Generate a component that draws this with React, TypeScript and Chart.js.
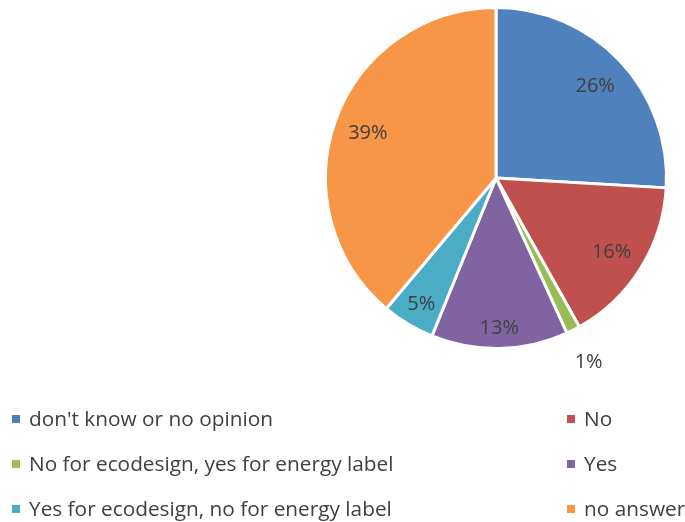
import React, { useEffect, useRef } from "react";
import { Chart, registerables } from "chart.js";

Chart.register(...registerables);

const categories = [
  "don't know or no opinion",
  "No",
  "No for ecodesign, yes for energy label",
  "Yes",
  "Yes for ecodesign, no for energy label",
  "no answer",
];
const values = [26, 16, 1.3, 13, 5, 39];
const valueLabels = ["26%", "16%", "1%", "13%", "5%", "39%"];
const colors = ["#4F81BD", "#C0504D", "#9BBB59", "#8064A2", "#4BACC6", "#F79646"];
const labelRadiusFactors = [0.8, 0.8, 1.2, 0.87, 0.85, 0.8];

const FONT = '"Open Sans", "Noto Sans", sans-serif';

const labelPlugin = {
  id: "pieLabels",
  afterDatasetsDraw(chart: any) {
    const ctx = chart.ctx;
    const meta = chart.getDatasetMeta(0);
    ctx.save();
    ctx.font = `20px ${FONT}`;
    ctx.fillStyle = "#404040";
    ctx.textAlign = "center";
    ctx.textBaseline = "middle";
    meta.data.forEach((arc: any, i: number) => {
      const { x, y, startAngle, endAngle, outerRadius } = arc.getProps(
        ["x", "y", "startAngle", "endAngle", "outerRadius"],
        true
      );
      const mid = (startAngle + endAngle) / 2;
      const r = outerRadius * labelRadiusFactors[i];
      ctx.fillText(valueLabels[i], x + Math.cos(mid) * r, y + Math.sin(mid) * r + 2);
    });
    ctx.restore();
  },
};

const legendPlugin = {
  id: "customLegend",
  afterDraw(chart: any) {
    const ctx = chart.ctx;
    ctx.save();
    ctx.font = `20.8px ${FONT}`;
    ctx.textAlign = "left";
    ctx.textBaseline = "middle";
    const colX = [12, 567];
    const rowY = [419, 464, 509];
    categories.forEach((cat, i) => {
      const col = i % 2;
      const row = Math.floor(i / 2);
      const x = colX[col];
      const y = rowY[row];
      ctx.fillStyle = colors[i];
      ctx.fillRect(x, y - 4, 8, 8);
      ctx.fillStyle = "#404040";
      ctx.fillText(cat, x + 17, y + 1.5);
    });
    ctx.restore();
  },
};

export default function App() {
  const ref = useRef<HTMLCanvasElement>(null);
  useEffect(() => {
    if (!ref.current) return;
    const chart = new Chart(ref.current, {
      type: "pie",
      data: {
        labels: categories,
        datasets: [
          {
            data: values,
            backgroundColor: colors,
            borderColor: "#FFFFFF",
            borderWidth: 3,
          },
        ],
      },
      options: {
        animation: false,
        responsive: false,
        maintainAspectRatio: false,
        layout: { padding: { left: 324, right: 17, top: 6, bottom: 172 } },
        plugins: {
          legend: { display: false },
          tooltip: { enabled: false },
        },
      },
      plugins: [labelPlugin, legendPlugin],
    });
    return () => chart.destroy();
  }, []);
  return (
    <div style={{ position: "fixed", left: 0, top: 0, width: 685, height: 522, background: "#fff" }}>
      <canvas ref={ref} width={685} height={522} style={{ width: 685, height: 522 }} />
    </div>
  );
}
